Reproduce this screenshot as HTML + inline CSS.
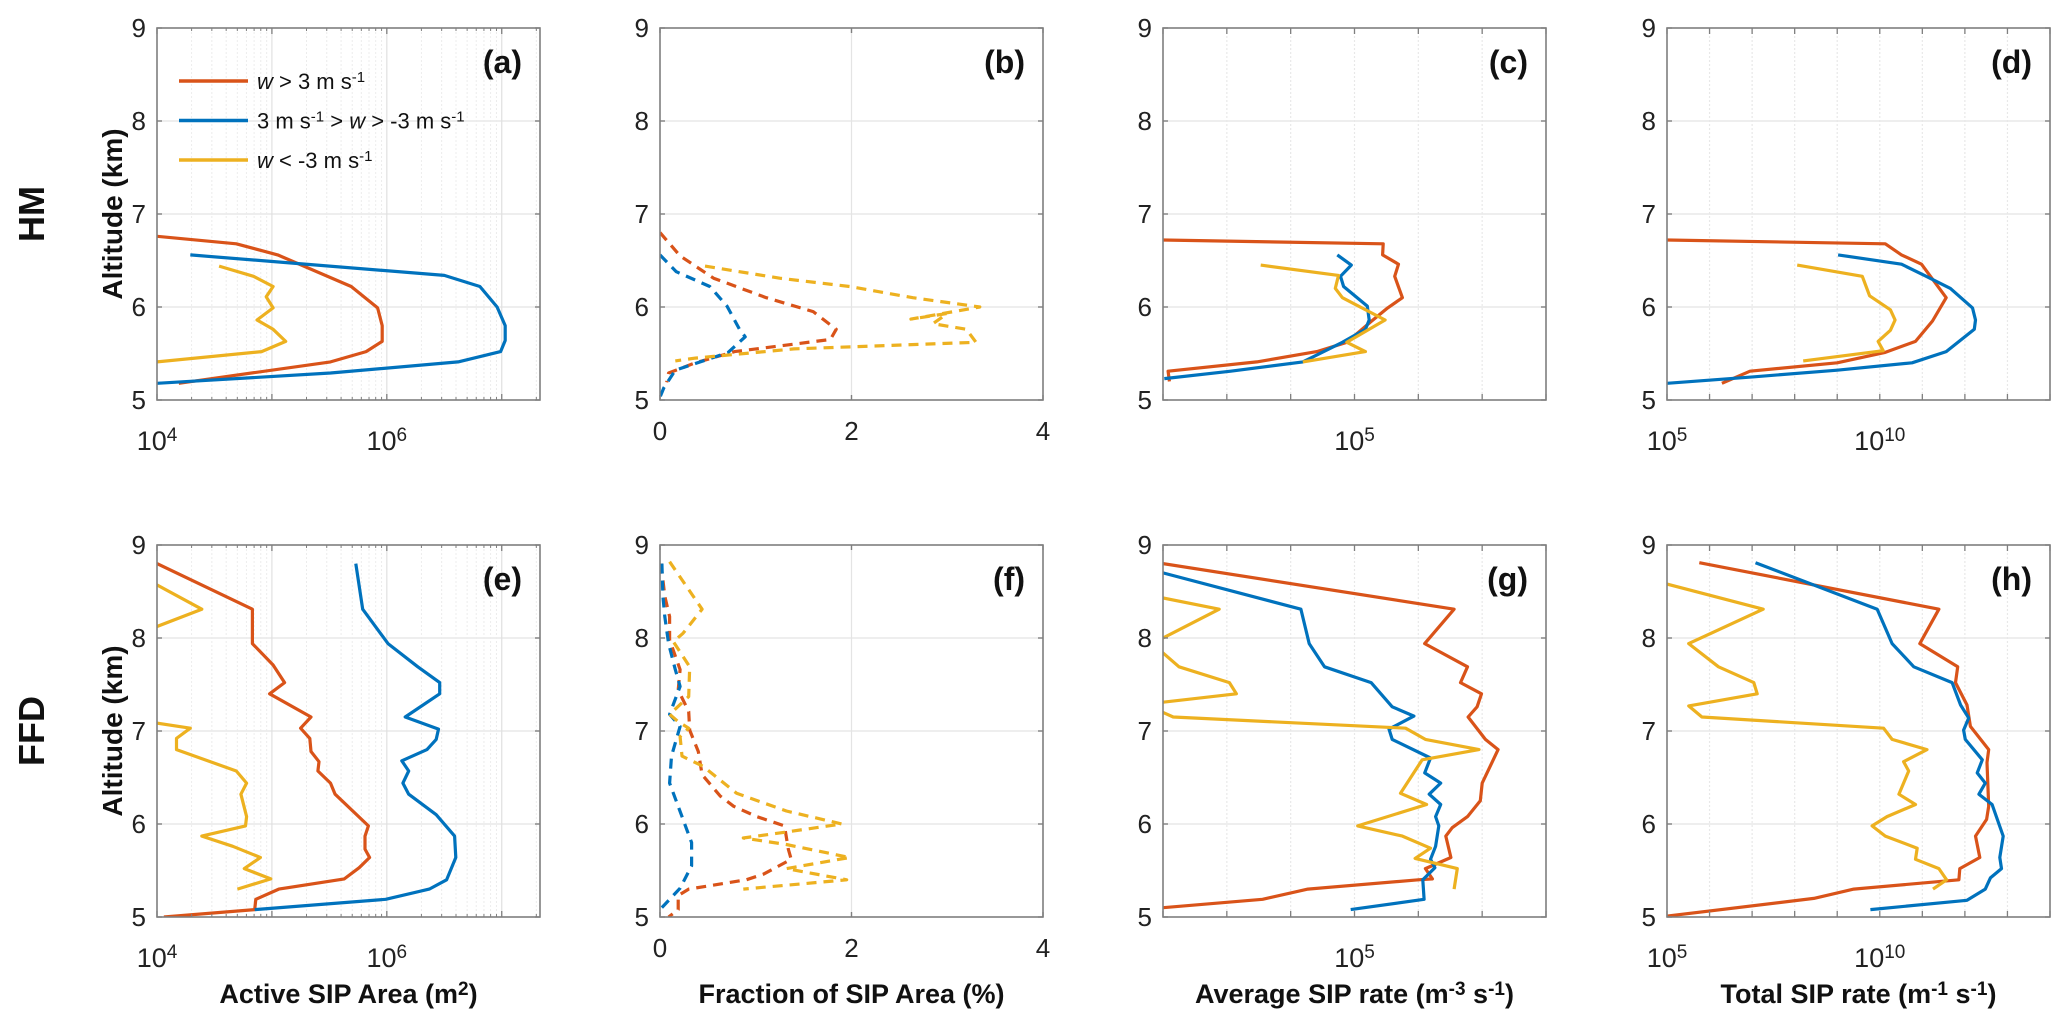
<!DOCTYPE html>
<html><head><meta charset="utf-8">
<style>
html,body{margin:0;padding:0;background:#fff;}
svg{display:block;font-family:"Liberation Sans","DejaVu Sans",sans-serif;}
</style></head>
<body>
<svg id="fig" width="2067" height="1025" viewBox="0 0 2067 1025" xmlns="http://www.w3.org/2000/svg"></svg>
<script>
// ---------------- DATA ----------------
// Altitudes (km) and values. Log-axis panels store log10 of the value.
const aRedAlt = [6.76,6.68,6.56,6.22,5.99,5.8,5.63,5.52,5.41,5.18];
const aRedLog = [4.0,4.69,5.05,5.69,5.92,5.96,5.96,5.82,5.51,4.19];
const aBlueAlt = [6.56,6.34,6.22,6.0,5.8,5.64,5.52,5.41,5.29,5.18];
const aBlueLog = [4.29,6.50,6.81,6.96,7.03,7.03,6.99,6.62,5.51,4.0];
const aYelAlt = [6.44,6.33,6.22,6.11,5.99,5.86,5.76,5.63,5.52,5.41];
const aYelLog = [4.54,4.84,5.01,4.95,5.01,4.87,5.01,5.12,4.91,4.0];
const bRedAlt = [6.80,6.55,6.31,6.10,5.95,5.76,5.65,5.52,5.40,5.29,5.19];
const bRedVal = [0,0.21,0.56,1.11,1.60,1.84,1.78,0.78,0.37,0.09,0.07];
const bBlueAlt = [6.56,6.38,6.22,6.01,5.76,5.68,5.51,5.32,5.13,5.03];
const bBlueVal = [0,0.17,0.52,0.70,0.83,0.89,0.71,0.16,0.04,0];
const bYelAlt = [6.44,6.31,6.22,6.10,6.0,5.87,5.93,5.82,5.76,5.62,5.55,5.45,5.42];
const bYelVal = [0.47,1.25,1.98,2.64,3.34,2.62,3.0,2.85,3.2,3.30,1.4,0.37,0.16];
const cRedAlt = [6.72,6.68,6.56,6.46,6.33,6.10,5.99,5.85,5.62,5.52,5.41,5.31,5.20];
const cRedLog = [2.0,5.45,5.44,5.69,5.63,5.75,5.52,5.27,4.88,4.41,3.47,2.08,2.1];
const cBlueAlt = [6.56,6.45,6.33,6.22,6.01,5.86,5.76,5.62,5.41,5.31,5.23];
const cBlueLog = [4.73,4.95,4.78,4.83,5.2,5.23,5.17,4.81,4.19,3.06,2.02];
const cYelAlt = [6.45,6.34,6.2,6.10,5.86,5.62,5.52,5.41];
const cYelLog = [3.53,4.75,4.70,4.81,5.48,4.88,5.17,4.19];
const dRedAlt = [6.72,6.68,6.56,6.46,6.10,5.85,5.63,5.51,5.40,5.31,5.18];
const dRedLog = [5.0,10.13,10.51,10.98,11.56,11.24,10.84,10.11,9.0,6.95,6.29];
const dBlueAlt = [6.56,6.46,6.33,6.20,5.99,5.86,5.76,5.52,5.40,5.32,5.25,5.18];
const dBlueLog = [9.02,10.51,11.09,11.66,12.18,12.25,12.22,11.56,10.76,9.0,7.05,5.0];
const dYelAlt = [6.45,6.33,6.12,5.97,5.86,5.75,5.63,5.53,5.42];
const dYelLog = [8.06,9.59,9.76,10.25,10.36,10.25,9.96,10.08,8.2];
const eRedAlt = [8.80,8.31,7.94,7.71,7.52,7.40,7.15,7.03,6.92,6.78,6.67,6.57,6.44,6.32,5.98,5.87,5.73,5.64,5.53,5.41,5.30,5.19,5.08,5.0];
const eRedLog = [4.0,4.83,4.83,5.01,5.11,4.98,5.34,5.25,5.33,5.34,5.41,5.40,5.51,5.55,5.84,5.81,5.81,5.85,5.76,5.63,5.06,4.86,4.85,4.06];
const eBlueAlt = [8.80,8.31,7.94,7.69,7.52,7.40,7.15,7.02,6.91,6.80,6.68,6.57,6.44,6.32,6.10,5.87,5.64,5.40,5.30,5.19,5.08];
const eBlueLog = [5.73,5.79,6.01,6.27,6.46,6.46,6.16,6.45,6.43,6.35,6.13,6.19,6.14,6.19,6.43,6.59,6.60,6.52,6.37,5.99,4.85];
const eYelAlt = [8.59,8.31,8.11,7.6,7.09,7.03,6.92,6.80,6.57,6.44,6.32,6.08,5.98,5.87,5.76,5.64,5.52,5.41,5.30];
const eYelLog = [3.97,4.39,3.97,2.0,3.97,4.29,4.17,4.17,4.69,4.78,4.73,4.78,4.77,4.39,4.66,4.90,4.76,4.99,4.70];
const fRedAlt = [8.80,8.45,8.23,7.98,7.66,7.44,7.21,7.01,6.78,6.53,6.30,6.19,6.08,5.98,5.73,5.62,5.46,5.40,5.30,5.23,5.08,5.0];
const fRedVal = [0.01,0.05,0.10,0.10,0.21,0.19,0.30,0.31,0.40,0.44,0.63,0.77,1.01,1.30,1.34,1.37,1.08,0.90,0.30,0.19,0.19,0.09];
const fBlueAlt = [8.80,8.45,8.23,7.94,7.66,7.48,7.18,7.05,6.73,6.44,6.08,5.80,5.55,5.31,5.08];
const fBlueVal = [0.02,0.03,0.05,0.09,0.16,0.21,0.10,0.21,0.12,0.10,0.23,0.33,0.33,0.21,0.0];
const fYelAlt = [8.82,8.31,8.05,7.96,7.69,7.37,7.18,7.10,7.03,6.94,6.73,6.62,6.33,6.14,6.0,5.91,5.85,5.78,5.64,5.52,5.40,5.30];
const fYelVal = [0.10,0.44,0.24,0.14,0.31,0.30,0.10,0.19,0.30,0.21,0.23,0.45,0.80,1.32,1.90,1.29,0.87,1.32,1.98,1.32,1.95,0.87];
const gRedAlt = [8.80,8.31,7.94,7.69,7.52,7.40,7.26,7.15,6.91,6.80,6.44,6.25,6.08,5.96,5.87,5.64,5.52,5.41,5.40,5.30,5.19,5.10];
const gRedLog = [2.0,6.56,6.10,6.77,6.66,6.99,6.92,6.78,7.05,7.25,7.0,6.97,6.77,6.53,6.43,6.51,6.11,6.22,6.0,4.27,3.56,2.0];
const gBlueAlt = [8.70,8.31,7.94,7.69,7.52,7.26,7.16,7.02,6.91,6.71,6.55,6.44,6.32,6.21,6.08,5.98,5.76,5.62,5.53,5.40,5.19,5.08];
const gBlueLog = [2.0,4.16,4.29,4.53,5.26,5.59,5.93,5.54,5.59,6.19,6.10,6.35,6.17,6.35,6.27,6.32,6.27,6.19,6.26,6.07,6.09,4.94];
const gYelAlt = [8.43,8.31,8.0,7.92,7.84,7.69,7.52,7.40,7.31,7.25,7.20,7.15,7.03,6.91,6.80,6.69,6.33,6.21,5.98,5.87,5.74,5.63,5.52,5.30];
const gYelLog = [2.0,2.88,2.0,1.0,2.0,2.25,3.04,3.15,2.0,1.0,2.0,2.16,5.80,6.11,6.95,6.06,5.72,6.13,5.05,5.75,6.19,5.95,6.61,6.56];
const hRedAlt = [8.81,8.31,7.94,7.69,7.52,7.28,7.05,6.80,6.66,6.19,6.05,5.87,5.64,5.52,5.40,5.30,5.20,5.01];
const hRedLog = [5.76,11.39,10.94,11.83,11.78,12.05,12.13,12.56,12.52,12.56,12.51,12.25,12.35,11.88,11.86,9.39,8.45,5.0];
const hBlueAlt = [8.81,8.31,7.94,7.69,7.52,7.28,7.14,7.01,6.91,6.69,6.55,6.44,6.32,6.21,5.87,5.64,5.52,5.42,5.30,5.18,5.08];
const hBlueLog = [7.08,9.94,10.29,10.80,11.70,11.90,12.09,11.97,12.01,12.41,12.29,12.48,12.33,12.64,12.90,12.82,12.86,12.60,12.48,12.05,9.78];
const hYelAlt = [8.58,8.31,7.94,7.69,7.52,7.40,7.27,7.15,7.03,6.91,6.80,6.67,6.57,6.32,6.21,6.08,5.98,5.87,5.74,5.62,5.52,5.40,5.30];
const hYelLog = [5.0,7.26,5.51,6.21,7.04,7.12,5.51,5.82,10.09,10.29,11.11,10.56,10.68,10.45,10.84,10.17,9.82,10.13,10.88,10.84,11.39,11.57,11.25];

const yTicks = [5,6,7,8,9];
const linTicks = [0,2,4];

// ---------------- LAYOUT ----------------
const NS = "http://www.w3.org/2000/svg";
const svg = document.getElementById('fig');
const COL = {red:'#D95319', blue:'#0072BD', yel:'#EDB120'};
const lefts = [157,660,1163,1667];
const tops = [28,545];
const PW = 383, PH = 372;

function el(tag, attrs, parent){
  const e = document.createElementNS(NS, tag);
  for (const k in attrs) e.setAttribute(k, attrs[k]);
  (parent||svg).appendChild(e);
  return e;
}

const panels = [
  {id:'a', r:0, c:0, type:'log', min:4, max:7.333, labels:[4,6], minor:true, dash:false,
   s:[[aRedAlt,aRedLog,'red'],[aBlueAlt,aBlueLog,'blue'],[aYelAlt,aYelLog,'yel']]},
  {id:'b', r:0, c:1, type:'lin', min:0, max:4, dash:true,
   s:[[bRedAlt,bRedVal,'red'],[bBlueAlt,bBlueVal,'blue'],[bYelAlt,bYelVal,'yel']]},
  {id:'c', r:0, c:2, type:'log', min:2, max:8, labels:[5], minor:false, dash:false,
   s:[[cRedAlt,cRedLog,'red'],[cBlueAlt,cBlueLog,'blue'],[cYelAlt,cYelLog,'yel']]},
  {id:'d', r:0, c:3, type:'log', min:5, max:14, labels:[5,10], minor:false, dash:false,
   s:[[dRedAlt,dRedLog,'red'],[dBlueAlt,dBlueLog,'blue'],[dYelAlt,dYelLog,'yel']]},
  {id:'e', r:1, c:0, type:'log', min:4, max:7.333, labels:[4,6], minor:true, dash:false,
   s:[[eRedAlt,eRedLog,'red'],[eBlueAlt,eBlueLog,'blue'],[eYelAlt,eYelLog,'yel']]},
  {id:'f', r:1, c:1, type:'lin', min:0, max:4, dash:true,
   s:[[fRedAlt,fRedVal,'red'],[fBlueAlt,fBlueVal,'blue'],[fYelAlt,fYelVal,'yel']]},
  {id:'g', r:1, c:2, type:'log', min:2, max:8, labels:[5], minor:false, dash:false,
   s:[[gRedAlt,gRedLog,'red'],[gBlueAlt,gBlueLog,'blue'],[gYelAlt,gYelLog,'yel']]},
  {id:'h', r:1, c:3, type:'log', min:5, max:14, labels:[5,10], minor:false, dash:false,
   s:[[hRedAlt,hRedLog,'red'],[hBlueAlt,hBlueLog,'blue'],[hYelAlt,hYelLog,'yel']]}
];

const defs = el('defs', {});
panels.forEach(p => {
  const x0 = lefts[p.c], y0 = tops[p.r];
  const xs = v => x0 + (v - p.min) / (p.max - p.min) * PW;
  const ys = a => y0 + (9 - a) / 4 * PH;
  const g = el('g', {});
  
  

  const grid = el('g', {}, g);
  
  
  [6,7,8].forEach(a => el('line', {x1:x0, x2:x0+PW, y1:ys(a), y2:ys(a), stroke:'#e4e4e4', 'stroke-width':1.2}, grid));
  if (p.type === 'lin') {
    linTicks.forEach(v => { if (v>p.min && v<p.max) el('line', {x1:xs(v), x2:xs(v), y1:y0, y2:y0+PH, stroke:'#e4e4e4','stroke-width':1.2}, grid); });
  } else {
    for (let d = Math.ceil(p.min); d <= p.max; d++) {
      if (d > p.min && d < p.max) el('line', {x1:xs(d), x2:xs(d), y1:y0, y2:y0+PH, stroke: p.minor ? '#e0e0e0' : '#e8e8e8', 'stroke-width':1.2, 'stroke-dasharray': p.minor ? '' : '2,2'}, grid);
      if (p.minor) for (let m = 2; m < 10; m++) {
        const v = d + Math.log10(m);
        if (v > p.min && v < p.max) el('line', {x1:xs(v), x2:xs(v), y1:y0, y2:y0+PH, stroke:'#ececec','stroke-width':1,'stroke-dasharray':'2,2'}, grid);
      }
    }
  }

  const cp = el('clipPath', {id:'clip-'+p.id}, defs);
  el('rect', {x:x0, y:y0, width:PW, height:PH}, cp);
  const sg = el('g', {'clip-path':'url(#clip-'+p.id+')'}, g);
  p.s.forEach(([alts, vals, col]) => {
    const pts = alts.map((a,i) => xs(vals[i]).toFixed(1) + ',' + ys(a).toFixed(1)).join(' ');
    const pl = el('polyline', {points:pts, fill:'none', stroke:COL[col], 'stroke-width':3.2, 'stroke-linejoin':'round'}, sg);
    if (p.dash) pl.setAttribute('stroke-dasharray', '10,7');
    
    
  });

  const box = el('rect', {x:x0, y:y0, width:PW, height:PH, fill:'none', stroke:'#7f7f7f', 'stroke-width':1.6}, g);
  
  

  yTicks.forEach(a => {
    el('line', {x1:x0, x2:x0+5, y1:ys(a), y2:ys(a), stroke:'#7f7f7f','stroke-width':1.4}, g);
    el('line', {x1:x0+PW-5, x2:x0+PW, y1:ys(a), y2:ys(a), stroke:'#7f7f7f','stroke-width':1.4}, g);
    const t = el('text', {x:x0-11, y:ys(a)+9, 'text-anchor':'end', 'font-size':26, fill:'#222'}, g);
    t.textContent = a;
    
    
  });

  if (p.type === 'lin') {
    linTicks.forEach(v => {
      el('line', {x1:xs(v), x2:xs(v), y1:y0+PH-5, y2:y0+PH, stroke:'#7f7f7f','stroke-width':1.4}, g);
      el('line', {x1:xs(v), x2:xs(v), y1:y0, y2:y0+5, stroke:'#7f7f7f','stroke-width':1.4}, g);
      const t = el('text', {x:xs(v), y:y0+PH+40, 'text-anchor':'middle', 'font-size':26, fill:'#222'}, g);
      t.textContent = v;
      
      
    });
  } else {
    for (let d = Math.ceil(p.min); d <= p.max; d++) {
      el('line', {x1:xs(d), x2:xs(d), y1:y0+PH-6, y2:y0+PH, stroke:'#7f7f7f','stroke-width':1.3}, g);
      el('line', {x1:xs(d), x2:xs(d), y1:y0, y2:y0+6, stroke:'#7f7f7f','stroke-width':1.3}, g);
      if (p.minor) for (let m = 2; m < 10; m++) {
        const v = d + Math.log10(m);
        if (v < p.max) {
          el('line', {x1:xs(v), x2:xs(v), y1:y0+PH-3, y2:y0+PH, stroke:'#7f7f7f','stroke-width':1}, g);
          el('line', {x1:xs(v), x2:xs(v), y1:y0, y2:y0+3, stroke:'#7f7f7f','stroke-width':1}, g);
        }
      }
    }
    p.labels.forEach(d => {
      const t = el('text', {x:xs(d), y:y0+PH+50, 'text-anchor':'middle', 'font-size':27, fill:'#222'}, g);
      const b = el('tspan', {}, t); b.textContent = '10';
      const s = el('tspan', {'baseline-shift':'45%', 'font-size':19}, t); s.textContent = d;
      
      
    });
  }

  const pl = el('text', {x:x0+PW-18, y:y0+45, 'text-anchor':'end', 'font-size':32, 'font-weight':'bold', fill:'#111'}, g);
  pl.textContent = '(' + p.id + ')';
  
  
});

function vtext(txt, x, y, size, name){
  const t = el('text', {x:x, y:y, transform:'rotate(-90 '+x+' '+y+')', 'text-anchor':'middle', 'font-size':size, 'font-weight':'bold', fill:'#111'});
  t.textContent = txt;
  
  
}
vtext('HM', 44, 214, 36, 'row-title-hm');
vtext('FFD', 44, 731, 36, 'row-title-ffd');
vtext('Altitude (km)', 122, 214, 28, 'y-axis-title-top');
vtext('Altitude (km)', 122, 731, 28, 'y-axis-title-bottom');

function xtitle(parts, cx, name){
  const t = el('text', {x:cx, y:1003, 'text-anchor':'middle', 'font-size':27, 'font-weight':'bold', fill:'#111'});
  parts.forEach(([s, sup]) => {
    const ts = el('tspan', sup ? {'baseline-shift':'40%', 'font-size':19} : {}, t);
    ts.textContent = s;
  });
  
  
}
xtitle([['Active SIP Area (m',0],['2',1],[')',0]], lefts[0]+PW/2, 'x-axis-title-area');
xtitle([['Fraction of SIP Area (%)',0]], lefts[1]+PW/2, 'x-axis-title-fraction');
xtitle([['Average SIP rate (m',0],['-3',1],[' s',0],['-1',1],[')',0]], lefts[2]+PW/2, 'x-axis-title-avg-rate');
xtitle([['Total SIP rate (m',0],['-1',1],[' s',0],['-1',1],[')',0]], lefts[3]+PW/2, 'x-axis-title-total-rate');

const lg = el('g', {});


const legendItems = [
  ['red', [['w',1,0],[' > 3 m s',0,0],['-1',0,1]]],
  ['blue', [['3 m s',0,0],['-1',0,1],[' > ',0,0],['w',1,0],[' > -3 m s',0,0],['-1',0,1]]],
  ['yel', [['w',1,0],[' < -3 m s',0,0],['-1',0,1]]]
];
legendItems.forEach(([col, parts], i) => {
  const y = 81 + i*39.5;
  const row = el('g', {}, lg);
  
  
  el('line', {x1:179, x2:248, y1:y, y2:y, stroke:COL[col], 'stroke-width':3.5}, row);
  const t = el('text', {x:257, y:y+8, 'font-size':22, fill:'#111'}, row);
  parts.forEach(([s, it, sup]) => {
    const a = {};
    if (it) a['font-style'] = 'italic';
    if (sup) { a['baseline-shift'] = '45%'; a['font-size'] = 15; }
    const ts = el('tspan', a, t);
    ts.textContent = s;
  });
});
</script>
</body></html>
